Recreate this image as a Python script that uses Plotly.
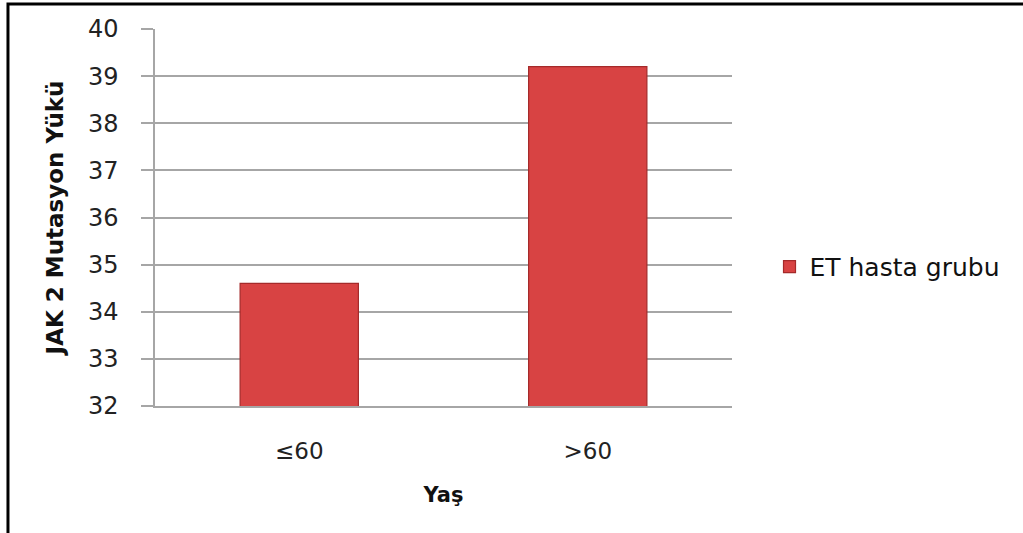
import plotly.graph_objects as go

# Age groups and mean JAK2 mutation burden for the ET patient group
age_groups = ["≤60", ">60"]
mutation_burden = [34.6, 39.2]
series_name = "ET hasta grubu"
y_ticks = [32, 33, 34, 35, 36, 37, 38, 39, 40]

FONT = "DejaVu Sans"
GRID = "#a6a6a6"

fig = go.Figure()
fig.add_trace(go.Bar(
    x=age_groups,
    y=mutation_burden,
    name=series_name,
    width=0.41,
    marker=dict(color="#d84343", line=dict(color="#a52a2a", width=1.2)),
    showlegend=True,
))

fig.update_layout(
    width=1023,
    height=533,
    margin=dict(l=155, r=291, t=29, b=127),
    paper_bgcolor="white",
    plot_bgcolor="white",
    font=dict(family=FONT, color="#1a1a1a"),
    showlegend=True,
    legend=dict(
        x=1.065, y=0.369, xanchor="left", yanchor="middle",
        font=dict(size=25, family=FONT, color="#111111"),
        itemwidth=30,
        bgcolor="rgba(0,0,0,0)",
    ),
    xaxis=dict(
        title=dict(text="<b>Yaş</b>", font=dict(size=21, family=FONT, color="#111111"), standoff=24),
        tickfont=dict(size=23, family=FONT, color="#222222"),
        ticklabelstandoff=24,
        showgrid=False,
        showline=True, linecolor=GRID, linewidth=1.5,
        ticks="", ticklen=0,
    ),
    yaxis=dict(
        title=dict(text="<b>JAK 2 Mutasyon Yükü</b>", font=dict(size=23, family=FONT, color="#111111"), standoff=18),
        range=[32, 40],
        tickvals=y_ticks,
        tickfont=dict(size=24, family=FONT, color="#222222"),
        ticklabelstandoff=18,
        showgrid=True, gridcolor=GRID, gridwidth=1.5,
        showline=True, linecolor=GRID, linewidth=1.5,
        ticks="outside", ticklen=12, tickcolor=GRID, tickwidth=1.5,
        zeroline=False,
    ),
    bargap=0.59,
    shapes=[dict(
        type="rect", xref="paper", yref="paper",
        x0=-0.2548, x1=1.6, y0=-0.5, y1=1.0663,
        line=dict(color="black", width=3),
        fillcolor="rgba(0,0,0,0)",
        layer="above",
    )],
)

fig.write_html("out.html")
